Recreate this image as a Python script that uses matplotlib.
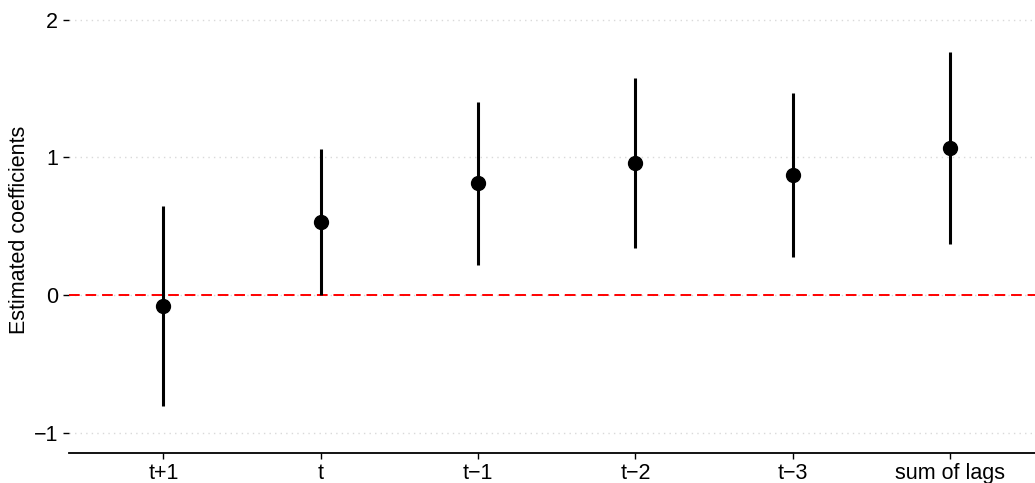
import matplotlib
matplotlib.use("Agg")
import matplotlib.pyplot as plt
import numpy as np

plt.rcParams['font.family'] = ['Liberation Sans', 'DejaVu Sans']

# coefficient estimates with confidence bounds
labels = ["t+1", "t", "t\u22121", "t\u22122", "t\u22123", "sum of lags"]
estimates = [-0.08, 0.527, 0.815, 0.958, 0.873, 1.067]
lower = [-0.807, 0.0, 0.218, 0.34, 0.274, 0.371]
upper = [0.647, 1.062, 1.40, 1.573, 1.467, 1.762]
y_ticks = [-1, 0, 1, 2]

fig = plt.figure(figsize=(10.35, 4.83), dpi=100)
ax = fig.add_axes([0.0667, 0.062, 0.9333, 0.926])

x = np.arange(len(labels))

for yt in y_ticks:
    ax.axhline(yt, color="#d9d9d9", linestyle=(0, (1, 3)), linewidth=1.0, zorder=1)
ax.axhline(0, color="#ff0000", linestyle=(0, (5.5, 3)), linewidth=1.4, zorder=2)

ax.vlines(x, lower, upper, color="black", linewidth=2.2, zorder=3)
ax.plot(x, estimates, "o", color="black", markersize=10, zorder=4)

ax.set_xlim(-0.6, 5.54)
ax.set_ylim(-1.149, 2.1)
ax.set_xticks(x)
ax.set_xticklabels(labels)
ax.set_yticks(y_ticks)
ax.set_yticklabels(["\u22121", "0", "1", "2"])

for side in ["top", "right", "left"]:
    ax.spines[side].set_visible(False)
ax.spines["bottom"].set_linewidth(1.3)

ax.tick_params(axis="x", length=4, width=1.0, labelsize=15.5, pad=3, colors="black")
ax.tick_params(axis="y", length=4, width=1.0, labelsize=15.5, pad=4, colors="black")

ax.set_ylabel("Estimated coefficients", fontsize=15.5)
ax.yaxis.set_label_coords(-0.040, 0.5)

fig.savefig("out.png", dpi=100)
